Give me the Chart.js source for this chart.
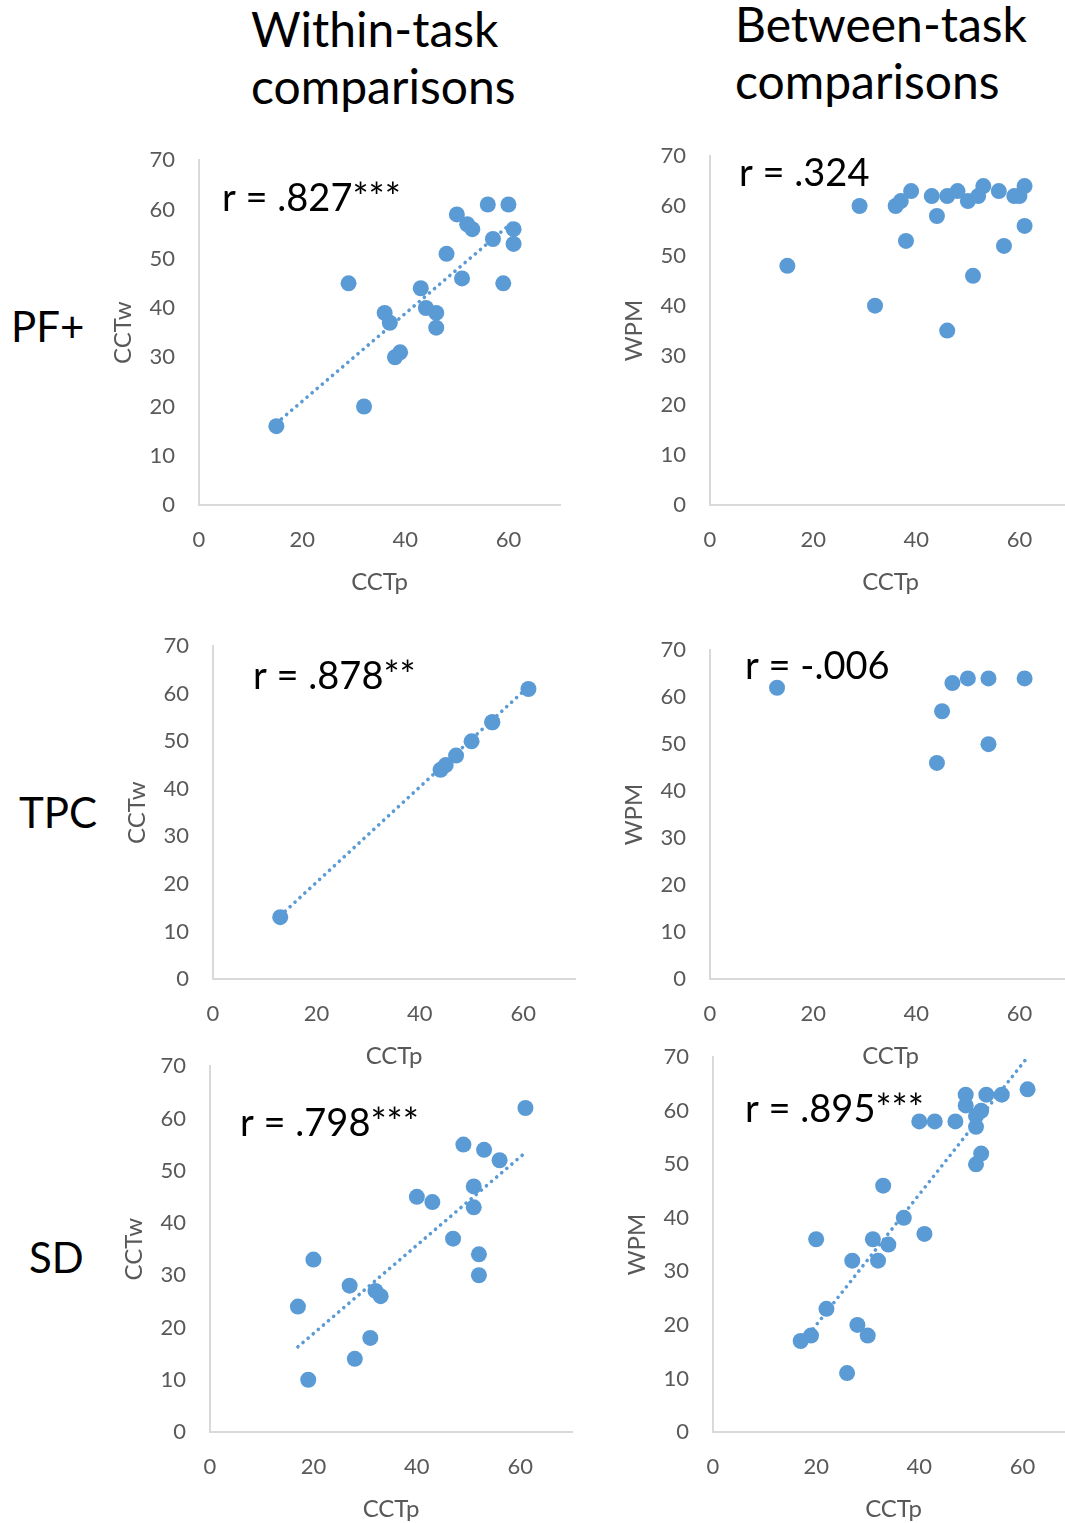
<!DOCTYPE html>
<html>
<head>
<meta charset="utf-8">
<script src="https://cdn.jsdelivr.net/npm/chart.js@4/dist/chart.umd.min.js"></script>
<style>
  html, body { margin: 0; padding: 0; background: #fff; overflow: hidden; }
  #page { position: relative; width: 1065px; height: 1523px; overflow: hidden; font-family: Lato, "Open Sans", sans-serif; }
  .head { position: absolute; font-size: 48px; line-height: 57px; color: #000; white-space: nowrap; }
  .row { position: absolute; font-size: 42px; line-height: 42px; color: #000; white-space: nowrap; }
  canvas { position: absolute; }
</style>
</head>
<body>
<div id="page">
  <div class="head" style="left:251px; top:0px;">Within-task<br>comparisons</div>
  <div class="head" style="left:735px; top:-5px;">Between-task<br>comparisons</div>
  <div class="row" style="left:11px; top:305px;">PF+</div>
  <div class="row" style="left:19px; top:791px;">TPC</div>
  <div class="row" style="left:29px; top:1236px;">SD</div>
</div>
<script>
// PF+ within-task: CCTp vs CCTw
const pfWithinX = [15, 32, 29, 36, 37, 38, 39, 43, 44, 46, 46, 48, 50, 52, 53, 51, 56, 60, 57, 61, 61, 59];
const pfWithinY = [16, 20, 45, 39, 37, 30, 31, 44, 40, 39, 36, 51, 59, 57, 56, 46, 61, 61, 54, 56, 53, 45];
const pfWithinTrendX = [15, 61];
const pfWithinTrendY = [16.6, 57.6];

// PF+ between-task: CCTp vs WPM
const pfBetweenX = [15, 29, 32, 36, 37, 39, 38, 43, 44, 46, 46, 48, 50, 52, 53, 51, 56, 57, 59, 60, 61, 61];
const pfBetweenY = [48, 60, 40, 60, 61, 63, 53, 62, 58, 62, 35, 63, 61, 62, 64, 46, 63, 52, 62, 62, 64, 56];

// TPC within-task
const tpcWithinX = [13, 44, 45, 47, 50, 54, 54, 61];
const tpcWithinY = [13, 44, 45, 47, 50, 54, 54, 61];
const tpcWithinTrendX = [13, 61];
const tpcWithinTrendY = [13.3, 61.5];

// TPC between-task
const tpcBetweenX = [13, 47, 50, 54, 61, 45, 54, 44];
const tpcBetweenY = [62, 63, 64, 64, 64, 57, 50, 46];

// SD within-task
const sdWithinX = [61, 49, 53, 56, 51, 51, 40, 43, 47, 52, 52, 20, 27, 32, 33, 17, 31, 28, 19];
const sdWithinY = [62, 55, 54, 52, 47, 43, 45, 44, 37, 34, 30, 33, 28, 27, 26, 24, 18, 14, 10];
const sdWithinTrendX = [17, 61];
const sdWithinTrendY = [16.3, 53.5];

// SD between-task
const sdBetweenX = [61, 56, 53, 49, 49, 52, 51, 51, 40, 43, 47, 52, 51, 33, 37, 41, 31, 34, 20, 27, 32, 22, 28, 30, 19, 17, 26];
const sdBetweenY = [64, 63, 63, 63, 61, 60, 59, 57, 58, 58, 58, 52, 50, 46, 40, 37, 36, 35, 36, 32, 32, 23, 20, 18, 18, 17, 11];
const sdBetweenTrendX = [17, 61];
const sdBetweenTrendY = [16.3, 70];

const xTicks = [0, 20, 40, 60];
const yTicks = [0, 10, 20, 30, 40, 50, 60, 70];
const rLabels = ['r = .827***', 'r = .324', 'r = .878**', 'r = -.006', 'r = .798***', 'r = .895***'];

const BLUE = '#5b9bd5';
const GREY = '#595959';
const FONT = 'Lato, "Open Sans", sans-serif';

const pts = (xs, ys) => xs.map((x, i) => ({x, y: ys[i]}));

// layout of each panel: plot-area left/top and size in px, text offset
const panels = [
  {L:199, T:159, W:360.5, H:346, yTitle:'CCTw', x:pfWithinX,  y:pfWithinY,  tx:pfWithinTrendX,  ty:pfWithinTrendY,  r:rLabels[0], rx:23, ry:51},
  {L:710, T:155, W:360.5, H:350, yTitle:'WPM',  x:pfBetweenX, y:pfBetweenY, tx:null, ty:null, r:rLabels[1], rx:29, ry:30},
  {L:213, T:645, W:361.7, H:334, yTitle:'CCTw', x:tpcWithinX, y:tpcWithinY, tx:tpcWithinTrendX, ty:tpcWithinTrendY, r:rLabels[2], rx:40, ry:43},
  {L:710, T:649, W:360.5, H:330, yTitle:'WPM',  x:tpcBetweenX,y:tpcBetweenY,tx:null, ty:null, r:rLabels[3], rx:35, ry:29},
  {L:210, T:1065,W:361.7, H:367, yTitle:'CCTw', x:sdWithinX,  y:sdWithinY,  tx:sdWithinTrendX,  ty:sdWithinTrendY,  r:rLabels[4], rx:30, ry:70},
  {L:713, T:1056,W:361.2, H:376, yTitle:'WPM',  x:sdBetweenX, y:sdBetweenY, tx:sdBetweenTrendX, ty:sdBetweenTrendY, r:rLabels[5], rx:32, ry:65}
];

const Y_BOX = 100, X_BOX = 100, PAD_TOP = 30, PAD_RIGHT = 12;
const TOP_EXTRA = 6; // chart area ends up this much below the top padding

// draws the correlation text inside the plot area
const rTextPlugin = {
  id: 'rText',
  afterDatasetsDraw(chart, args, opts){
    const {ctx, chartArea} = chart;
    ctx.save();
    ctx.font = '38px ' + FONT;
    ctx.fillStyle = '#000';
    ctx.textBaseline = 'alphabetic';
    ctx.textAlign = 'left';
    ctx.fillText(opts.text, chartArea.left + opts.dx, chartArea.top + opts.dy);
    ctx.restore();
  }
};

const page = document.getElementById('page');

panels.forEach(p => {
  const cv = document.createElement('canvas');
  const w = Math.round(Y_BOX + p.W + PAD_RIGHT);
  const h = Math.round(PAD_TOP + TOP_EXTRA + p.H + X_BOX);
  cv.width = w; cv.height = h;
  cv.style.width = w + 'px'; cv.style.height = h + 'px';
  cv.style.left = (p.L - Y_BOX) + 'px';
  cv.style.top = (p.T - PAD_TOP - TOP_EXTRA) + 'px';
  page.appendChild(cv);

  const datasets = [{
    data: pts(p.x, p.y),
    backgroundColor: BLUE,
    borderWidth: 0,
    pointRadius: 8,
    pointHoverRadius: 8
  }];
  if(p.tx){
    datasets.push({
      type: 'line',
      data: pts(p.tx, p.ty),
      borderColor: BLUE,
      borderWidth: 3.6,
      borderDash: [0.1, 6.6],
      borderCapStyle: 'round',
      pointRadius: 0,
      fill: false
    });
  }

  new Chart(cv.getContext('2d'), {
    type: 'scatter',
    data: { datasets },
    plugins: [rTextPlugin],
    options: {
      responsive: false,
      devicePixelRatio: 1,
      animation: false,
      layout: { padding: { top: PAD_TOP, right: PAD_RIGHT, left: 0, bottom: 0 } },
      plugins: {
        legend: { display: false },
        tooltip: { enabled: false },
        rText: { text: p.r, dx: p.rx, dy: p.ry }
      },
      scales: {
        x: {
          type: 'linear', min: 0, max: 70,
          afterBuildTicks: s => { s.ticks = xTicks.map(v => ({value: v})); },
          afterFit: s => { s.height = X_BOX; },
          grid: { display: false, drawTicks: false },
          border: { display: true, color: '#d9d9d9', width: 2 },
          ticks: { padding: 22, color: GREY, font: { family: FONT, size: 22 } },
          title: { display: true, text: 'CCTp', color: GREY, padding: { top: 0, bottom: 8 }, font: { family: FONT, size: 24 } }
        },
        y: {
          type: 'linear', min: 0, max: 70,
          afterBuildTicks: s => { s.ticks = yTicks.map(v => ({value: v})); },
          afterFit: s => { s.width = Y_BOX; },
          grid: { display: false, drawTicks: false },
          border: { display: true, color: '#d9d9d9', width: 2 },
          ticks: { padding: 24, color: GREY, font: { family: FONT, size: 22 } },
          title: { display: true, text: p.yTitle, color: GREY, padding: { top: 10, bottom: 0 }, font: { family: FONT, size: 24 } }
        }
      }
    }
  });
});
</script>
</body>
</html>
